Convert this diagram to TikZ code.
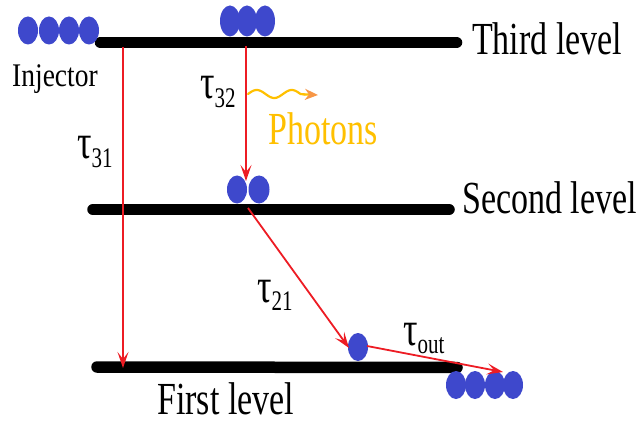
\documentclass[tikz,border=0pt]{standalone}
\usepackage{fontspec}
\setmainfont{Liberation Serif}
\newfontfamily\tnr{Liberation Serif}
\usetikzlibrary{arrows.meta,shapes.geometric}
\definecolor{dotblue}{RGB}{62,72,204}
\definecolor{arrred}{RGB}{237,28,36}
\definecolor{phyel}{RGB}{255,192,0}
\definecolor{phor}{RGB}{247,150,70}
\newcommand{\bigtxt}[1]{\scalebox{1}[1.35]{\tnr\fontsize{34}{34}\selectfont #1}}
\newcommand{\taulab}[1]{\scalebox{1}[1.35]{\tnr\fontsize{36}{36}\selectfont τ\raisebox{-6pt}{\fontsize{21}{21}\selectfont #1}}}
\begin{document}
\begin{tikzpicture}[x=1pt,y=-1pt,
 dot/.style={ellipse,fill=dotblue,minimum width=20pt,minimum height=28pt,inner sep=0pt},
 levelline/.style={line width=11.5pt,line cap=round},
 trans/.style={arrred,line width=1.8pt,-{Stealth[length=16pt,width=11pt,inset=7pt]}},
 lab/.style={anchor=base west,inner sep=0pt,font=\tnr}]
\useasboundingbox (0,0) rectangle (639,422);
% levels
\coordinate (L3a) at (100.5,42.5); \coordinate (L3b) at (456.5,42.5);
\coordinate (L2a) at (93,209.5);   \coordinate (L2b) at (449,209.5);
\coordinate (L1a) at (97,367);     \coordinate (L1b) at (457,367.5);
\draw[levelline] (L3a) -- (L3b);
\draw[levelline] (L2a) -- (L2b);
\draw[levelline] (L1a) -- (L1b);
% dots
\node[dot] (i1) at (28,30.5) {};
\node[dot] (i2) at (49,30.5) {};
\node[dot] (i3) at (69,30.5) {};
\node[dot] (i4) at (89,30.5) {};
\node[dot,minimum height=31pt] (t1) at (230,21) {};
\node[dot,minimum height=31pt] (t2) at (247,21) {};
\node[dot,minimum height=31pt] (t3) at (265,21) {};
\node[dot] (s1) at (237,189.5) {};
\node[dot,minimum width=21pt] (s2) at (259,189.5) {};
\node[dot] (f1) at (358,347) {};
\node[dot] (o1) at (456,385) {};
\node[dot] (o2) at (475,385) {};
\node[dot] (o3) at (495,385) {};
\node[dot] (o4) at (513,385) {};
% labels
\node[lab] (inj) at (12,87) {\scalebox{1}[1.2]{\tnr\fontsize{27.5}{27.5}\selectfont Injector}};
\node[lab] (third) at (472,55) {\bigtxt{Third level}};
\node[lab] (second) at (462,213) {\bigtxt{Second level}};
\node[lab] (first) at (157,414) {\bigtxt{First level}};
\node[lab,text=phyel] (phot) at (268,145) {\bigtxt{Photons}};
\node[lab] (t31) at (77,159) {\taulab{31}};
\node[lab] (t32) at (200,99) {\taulab{32}};
\node[lab] (t21) at (257,302) {\taulab{21}};
\node[lab] (tout) at (403,345) {\taulab{out}};
% transitions
\coordinate (a31s) at (123,47); \coordinate (a31e) at (123,368);
\coordinate (a32s) at (246,46); \coordinate (a32e) at (246,181);
\coordinate (a21s) at (248,208); \coordinate (a21e) at (349,348);
\coordinate (aos) at (367,346); \coordinate (aoe) at (503,372);
\draw[trans] (a31s) -- (a31e);
\draw[trans] (a32s) -- (a32e);
\draw[trans] (a21s) -- (a21e);
\draw[trans] (aos) -- (aoe);
% photon wave
\coordinate (ws) at (248,94); \coordinate (we) at (318,95);
\draw[phyel,line width=2.2pt,line cap=round] plot[domain=0:52.5,samples=60,smooth] ({248+\x},{94-4*sin(10.2857*\x)}) -- (305,94.5);
\draw[phyel,line width=2.2pt,-{Stealth[color=phor,fill=phor,length=13pt,width=11pt,inset=4pt]}] (303,94.3) -- (we);
\end{tikzpicture}
\end{document}
